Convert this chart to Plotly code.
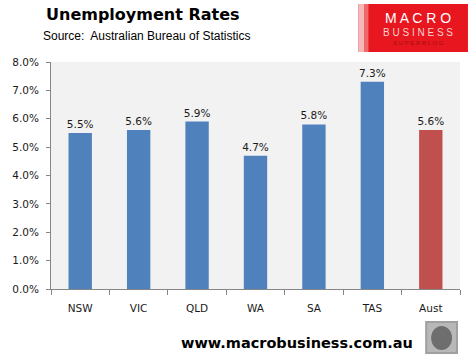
import plotly.graph_objects as go

categories = ["NSW", "VIC", "QLD", "WA", "SA", "TAS", "Aust"]
rates = [5.5, 5.6, 5.9, 4.7, 5.8, 7.3, 5.6]
labels = ["5.5%", "5.6%", "5.9%", "4.7%", "5.8%", "7.3%", "5.6%"]
colors = ["#4F81BD"] * 6 + ["#C0504D"]
y_ticks = [0, 1, 2, 3, 4, 5, 6, 7, 8]
y_ticklabels = ["0.0%", "1.0%", "2.0%", "3.0%", "4.0%", "5.0%", "6.0%", "7.0%", "8.0%"]

L, R, T, B = 49, 460, 62, 289
W = R - L
H = B - T

def px(x):
    return (x - L) / W

def py(y):
    return (B - y) / H

fig = go.Figure()
fig.add_trace(go.Bar(
    x=categories, y=rates, marker=dict(color=colors, line=dict(width=0)),
    text=labels, textposition="outside", cliponaxis=False, constraintext="none",
    textfont=dict(family="DejaVu Sans", size=10.5, color="#1A1A1A"),
    hoverinfo="skip",
))

shapes = [
    dict(type="rect", xref="paper", yref="paper", x0=px(358), x1=px(468), y0=py(52), y1=py(4),
         fillcolor="#E8161E", line=dict(width=0), layer="above"),
    dict(type="rect", xref="paper", yref="paper", x0=px(358), x1=px(364), y0=py(52), y1=py(4),
         fillcolor="#F6B8B8", line=dict(width=0), layer="above"),
    dict(type="rect", xref="paper", yref="paper", x0=px(364), x1=px(368), y0=py(52), y1=py(4),
         fillcolor="#EE6A6A", line=dict(width=0), layer="above"),
    dict(type="rect", xref="paper", yref="paper", x0=px(426), x1=px(457), y0=py(353), y1=py(322),
         fillcolor="#B8B8B8", line=dict(width=2, color="#A0A0A0"), layer="above"),
    dict(type="circle", xref="paper", yref="paper", x0=px(431), x1=px(452), y0=py(350), y1=py(326),
         fillcolor="#6E6E6E", line=dict(width=0), layer="above"),
]

annotations = [
    dict(text="<b>Unemployment Rates</b>", xref="paper", yref="paper", x=px(42), y=py(15),
         xanchor="left", yanchor="middle", showarrow=False,
         font=dict(family="DejaVu Sans", size=16, color="#000000")),
    dict(text="Source:  Australian Bureau of Statistics", xref="paper", yref="paper", x=px(39), y=py(36),
         xanchor="left", yanchor="middle", showarrow=False,
         font=dict(family="Liberation Sans", size=12, color="#000000")),
    dict(text="M A C R O", xref="paper", yref="paper", x=px(418), y=py(18),
         xanchor="center", yanchor="middle", showarrow=False,
         font=dict(family="Liberation Sans", size=14, color="#FFFFFF")),
    dict(text="B U S I N E S S", xref="paper", yref="paper", x=px(418), y=py(32),
         xanchor="center", yanchor="middle", showarrow=False,
         font=dict(family="Liberation Sans", size=10, color="#FBD0D0")),
    dict(text="S U P E R B L O G", xref="paper", yref="paper", x=px(418), y=py(43),
         xanchor="center", yanchor="middle", showarrow=False,
         font=dict(family="Liberation Sans", size=6, color="#A01010")),
    dict(text="<b>www.macrobusiness.com.au</b>", xref="paper", yref="paper", x=px(296), y=py(343),
         xanchor="center", yanchor="middle", showarrow=False,
         font=dict(family="DejaVu Sans", size=14.5, color="#000000")),
]

fig.update_layout(
    width=472, height=362,
    margin=dict(l=L, r=472 - R, t=T, b=362 - B, pad=0),
    paper_bgcolor="#FFFFFF", plot_bgcolor="#F2F2F2",
    bargap=0.6, showlegend=False,
    shapes=shapes, annotations=annotations,
    font=dict(family="DejaVu Sans", size=10.5, color="#1A1A1A"),
)
fig.update_xaxes(
    showline=True, linecolor="#868686", linewidth=1,
    ticks="outside", tickson="boundaries", ticklen=5, tickcolor="#868686",
    ticklabelstandoff=9,
    tickfont=dict(family="DejaVu Sans", size=10.5, color="#1A1A1A"),
    showgrid=False, fixedrange=True,
)
fig.update_yaxes(
    range=[0, 8], tickvals=y_ticks, ticktext=y_ticklabels,
    showline=True, linecolor="#868686", linewidth=1,
    ticks="outside", ticklen=4, tickcolor="#868686",
    ticklabelstandoff=5,
    tickfont=dict(family="DejaVu Sans", size=10.5, color="#1A1A1A"),
    showgrid=False, zeroline=False, fixedrange=True,
)

fig.write_html("out.html", config={"displayModeBar": False},
               post_script="document.body.style.margin='0';")
